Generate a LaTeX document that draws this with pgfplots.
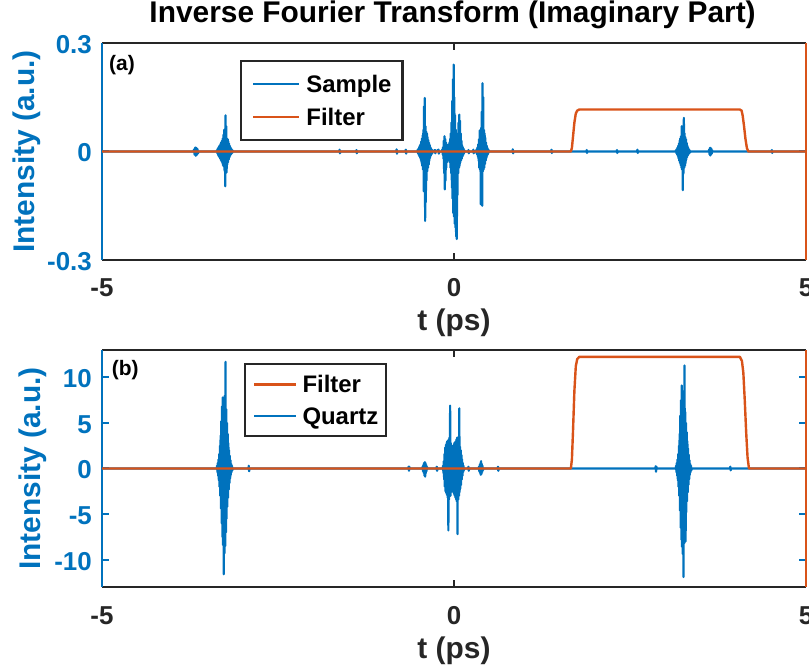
\documentclass[border=0pt]{standalone}
\usepackage{pgfplots}
\pgfplotsset{compat=1.18}
\usepackage{fontspec}
\setmainfont{Liberation Sans}

\definecolor{mblue}{rgb}{0,0.447,0.741}
\definecolor{morange}{rgb}{0.85,0.325,0.098}
\definecolor{mgray}{rgb}{0.15,0.15,0.15}

\newcommand{\tickfont}{\fontsize{26}{31}\selectfont\bfseries}
\newcommand{\labelfont}{\fontsize{30}{36}\selectfont\bfseries}
\newcommand{\legfont}{\fontsize{24}{29}\selectfont\bfseries}

\pgfplotsset{
  panel/.style={
    scale only axis, width=704bp, anchor=south west,
    xmin=-5, xmax=5,
    separate axis lines,
    x axis line style={draw=mgray, line width=2.4bp},
    y axis line style={draw=mblue, line width=2.4bp},
    xtick={-5,0,5}, xticklabels={-5,0,5},
    tick align=inside, major tick length=7bp,
    xtick style={draw=mgray, line width=2bp},
    ytick style={draw=mblue, line width=2bp},
    xticklabel style={font=\tickfont, text=mgray, anchor=base, inner sep=0pt, yshift=-37bp},
    yticklabel style={font=\tickfont, text=mblue, anchor=east, inner sep=0pt, xshift=-10bp, yshift=-1.5bp},
    xlabel={t (ps)},
    xlabel style={font=\labelfont, text=mgray, at={(axis description cs:0.5,0)}, anchor=base, yshift=-71bp},
    ylabel={Intensity (a.u.)},
    legend cell align=left,
    legend style={draw=mgray, line width=2.2bp, fill=white, text=black, font=\legfont,
      anchor=north west,
      nodes={inner sep=0pt, text height=22bp, text depth=6bp}},
  },
  sig/.style={mblue, line width=2.2bp, line join=round, mark=none},
  filt/.style={morange, line width=2.4bp, line join=round, mark=none},
}

\begin{document}
\begin{tikzpicture}
% ---------------- (a) sample ----------------
\begin{axis}[panel, name=top, at={(102bp,411bp)}, height=217bp,
  ymin=-0.3, ymax=0.3, ytick={-0.3,0,0.3}, yticklabels={-0.3,0,0.3},
  ylabel style={font=\labelfont, text=mblue, rotate=0, at={(axis description cs:-0.0952,0.5)}, anchor=base},
  title={Inverse Fourier Transform (Imaginary Part)},
  title style={font=\fontsize{30}{36}\selectfont\bfseries, text=black, at={(axis description cs:0.498,1)}, anchor=base, yshift=14.7bp},
  legend style={at={(axis description cs:0.196,0.9217)}, inner xsep=11bp, inner ysep=9bp, row sep=5bp, column sep=6bp},
  legend image code/.code={\draw[#1] (0bp,0bp) -- (46bp,0bp);},
]
\addplot[sig] coordinates {
(-5,0) (-3.70,0) (-3.692,0.006) (-3.684,-0.009) (-3.676,0.011) (-3.668,-0.012) (-3.660,0.010) (-3.652,-0.009) (-3.644,0.007) (-3.636,-0.005) (-3.628,0)
(-3.37,0) (-3.365,0.004) (-3.36,-0.006) (-3.355,0.008) (-3.35,-0.010) (-3.345,0.012) (-3.34,-0.014) (-3.335,0.015) (-3.33,-0.016) (-3.325,0.018)
(-3.32,-0.020) (-3.315,0.022) (-3.31,-0.024) (-3.305,0.026) (-3.30,-0.028) (-3.295,0.030) (-3.29,-0.032) (-3.285,0.036) (-3.28,-0.038) (-3.275,0.046)
(-3.27,-0.042) (-3.265,0.060) (-3.26,-0.052) (-3.255,0.040) (-3.25,-0.096) (-3.245,0.100) (-3.24,-0.044) (-3.235,0.070) (-3.23,-0.058) (-3.225,0.036)
(-3.22,-0.036) (-3.215,0.034) (-3.21,-0.030) (-3.205,0.028) (-3.20,-0.022) (-3.195,0.022) (-3.19,-0.016) (-3.185,0.016) (-3.18,-0.012) (-3.175,0.012)
(-3.17,-0.009) (-3.165,0.008) (-3.16,-0.006) (-3.155,0.005) (-3.15,-0.004) (-3.145,0.003) (-3.14,0)
(-1.63,0) (-1.625,0.005) (-1.62,-0.005) (-1.615,0) (-1.39,0) (-1.385,0.004) (-1.38,-0.005) (-1.375,0)
(-0.82,0) (-0.815,0.006) (-0.81,-0.006) (-0.805,0) (-0.69,0) (-0.685,0.005) (-0.68,-0.006) (-0.675,0)
(-0.52,0) (-0.515,0.005) (-0.51,-0.006) (-0.505,0.008) (-0.50,-0.010) (-0.495,0.012) (-0.49,-0.014) (-0.485,0.016) (-0.48,-0.018) (-0.475,0.020)
(-0.47,-0.024) (-0.465,0.028) (-0.46,-0.032) (-0.455,0.036) (-0.45,-0.040) (-0.445,0.045) (-0.44,-0.050) (-0.435,0.060) (-0.43,-0.110) (-0.425,0.125)
(-0.42,-0.060) (-0.415,0.148) (-0.41,-0.192) (-0.405,0.070) (-0.40,-0.140) (-0.395,0.055) (-0.39,-0.080) (-0.385,0.050) (-0.38,-0.055) (-0.375,0.040)
(-0.37,-0.045) (-0.365,0.032) (-0.36,-0.036) (-0.355,0.024) (-0.35,-0.026) (-0.345,0.018) (-0.34,-0.018) (-0.335,0.012) (-0.33,-0.012) (-0.325,0.008)
(-0.32,-0.008) (-0.315,0.005) (-0.31,-0.005) (-0.30,0)
(-0.27,0.004) (-0.265,-0.005) (-0.26,0) (-0.22,0.005) (-0.215,-0.006) (-0.21,0)
(-0.17,0) (-0.165,0.006) (-0.16,-0.008) (-0.155,0.012) (-0.15,-0.020) (-0.145,0.030) (-0.14,-0.060) (-0.135,0.042) (-0.13,-0.105) (-0.125,0.035)
(-0.12,-0.080) (-0.115,0.025) (-0.11,-0.045) (-0.105,0.020) (-0.10,-0.030) (-0.095,0.015) (-0.09,-0.022) (-0.085,0.018) (-0.08,-0.020) (-0.075,0.020)
(-0.07,-0.025) (-0.065,0.025) (-0.06,-0.030) (-0.055,0.035) (-0.05,-0.045) (-0.045,0.050) (-0.04,-0.060) (-0.035,0.080) (-0.03,-0.100) (-0.025,0.140)
(-0.02,-0.130) (-0.015,0.200) (-0.01,-0.170) (-0.005,0.240) (0.0,-0.180) (0.005,0.150) (0.01,-0.200) (0.015,0.100) (0.02,-0.210) (0.025,0.060)
(0.03,-0.235) (0.035,0.040) (0.04,-0.242) (0.045,0.030) (0.05,-0.120) (0.055,0.050) (0.06,-0.060) (0.065,0.080) (0.07,-0.045) (0.075,0.102)
(0.08,-0.040) (0.085,0.085) (0.09,-0.030) (0.095,0.050) (0.10,-0.025) (0.105,0.030) (0.11,-0.020) (0.115,0.018) (0.12,-0.014) (0.125,0.012)
(0.13,-0.010) (0.135,0.008) (0.14,-0.006) (0.145,0.004) (0.15,0)
(0.20,0) (0.205,0.004) (0.21,-0.005) (0.215,0) (0.27,0) (0.275,0.005) (0.28,-0.005) (0.285,0)
(0.31,0) (0.315,0.004) (0.32,-0.005) (0.325,0.007) (0.33,-0.009) (0.335,0.012) (0.34,-0.015) (0.345,0.020) (0.35,-0.026) (0.355,0.034)
(0.36,-0.045) (0.365,0.058) (0.37,-0.050) (0.375,0.060) (0.38,-0.146) (0.385,0.065) (0.39,-0.060) (0.395,0.110) (0.40,-0.150) (0.405,0.189)
(0.41,-0.055) (0.415,0.150) (0.42,-0.050) (0.425,0.060) (0.43,-0.045) (0.435,0.050) (0.44,-0.035) (0.445,0.038) (0.45,-0.025) (0.455,0.025)
(0.46,-0.018) (0.465,0.016) (0.47,-0.012) (0.475,0.010) (0.48,-0.008) (0.485,0.006) (0.49,-0.004) (0.495,0.003) (0.50,0)
(0.83,0) (0.835,0.006) (0.84,-0.005) (0.845,0) (1.38,0) (1.385,0.005) (1.39,-0.004) (1.395,0)
(1.88,0) (1.885,0.004) (1.89,-0.004) (1.895,0) (2.31,0) (2.315,0.004) (2.32,-0.004) (2.325,0) (2.60,0) (2.605,0.005) (2.61,-0.004) (2.615,0)
(3.15,0) (3.155,0.004) (3.16,-0.005) (3.165,0.007) (3.17,-0.009) (3.175,0.011) (3.18,-0.013) (3.185,0.016) (3.19,-0.019) (3.195,0.022)
(3.20,-0.026) (3.205,0.030) (3.21,-0.032) (3.215,0.036) (3.22,-0.038) (3.225,0.042) (3.23,-0.045) (3.235,0.070) (3.24,-0.050) (3.245,0.045)
(3.25,-0.107) (3.255,0.050) (3.26,-0.060) (3.265,0.093) (3.27,-0.045) (3.275,0.050) (3.28,-0.040) (3.285,0.040) (3.29,-0.032) (3.295,0.034)
(3.30,-0.022) (3.305,0.024) (3.31,-0.016) (3.315,0.016) (3.32,-0.011) (3.325,0.011) (3.33,-0.008) (3.335,0.007) (3.34,-0.005) (3.345,0.004)
(3.35,-0.003) (3.36,0)
(3.62,0) (3.625,0.006) (3.63,-0.008) (3.635,0.010) (3.64,-0.011) (3.645,0.010) (3.65,-0.009) (3.655,0.008) (3.66,-0.006) (3.665,0.004) (3.67,0)
(4.51,0) (4.515,0.004) (4.52,-0.004) (4.525,0) (5,0)
};
\addlegendentry{Sample\hspace{13bp}}
\addplot[filt] coordinates {
(-5,0) (1.66,0) (1.675,0.010) (1.69,0.040) (1.71,0.080) (1.73,0.105) (1.75,0.113) (1.78,0.116)
(4.06,0.116) (4.085,0.113) (4.10,0.100) (4.12,0.070) (4.14,0.035) (4.16,0.010) (4.18,0) (5,0)
};
\addlegendentry{Filter}
\node[anchor=north west, inner sep=0pt, font=\fontsize{21}{25}\selectfont\bfseries, text=black] at (rel axis cs:0.01,0.945) {(a)};
\end{axis}
\draw[morange, line width=2.4bp] (top.south east) -- (top.north east);

% ---------------- (b) quartz ----------------
\begin{axis}[panel, name=bot, at={(102bp,84bp)}, height=237bp,
  ymin=-13, ymax=13, ytick={-10,-5,0,5,10}, yticklabels={-10,-5,0,5,10},
  ylabel style={font=\labelfont, text=mblue, rotate=0, at={(axis description cs:-0.088,0.5)}, anchor=base},
  legend style={at={(axis description cs:0.2017,0.9439)}, inner xsep=8bp, inner ysep=6bp, row sep=4bp, column sep=5bp},
  legend image code/.code={\draw[#1] (0bp,0bp) -- (42bp,0bp);},
]
\addlegendimage{filt}
\addlegendentry{Filter}
\addplot[sig] coordinates {
(-5,0) (-3.37,0) (-3.365,0.3) (-3.36,-0.4) (-3.355,0.6) (-3.35,-0.8) (-3.345,1.0) (-3.34,-1.3) (-3.335,1.6) (-3.33,-2.0) (-3.325,2.5)
(-3.32,-3.0) (-3.315,3.6) (-3.31,-4.4) (-3.305,5.2) (-3.30,-6.0) (-3.295,6.8) (-3.29,-7.5) (-3.285,7.8) (-3.28,-8.4) (-3.275,7.6)
(-3.27,-11.6) (-3.265,7.0) (-3.26,-9.3) (-3.255,8.0) (-3.25,-8.5) (-3.245,11.7) (-3.24,-7.0) (-3.235,6.5) (-3.23,-5.5) (-3.225,5.0)
(-3.22,-4.2) (-3.215,3.8) (-3.21,-3.2) (-3.205,2.8) (-3.20,-2.3) (-3.195,2.0) (-3.19,-1.6) (-3.185,1.4) (-3.18,-1.1) (-3.175,0.9)
(-3.17,-0.7) (-3.165,0.5) (-3.16,-0.4) (-3.155,0.3) (-3.15,-0.2) (-3.14,0)
(-2.92,0) (-2.915,0.3) (-2.91,-0.3) (-2.905,0)
(-0.65,0) (-0.645,0.2) (-0.64,-0.25) (-0.635,0.2) (-0.63,0)
(-0.45,0) (-0.445,0.2) (-0.44,-0.3) (-0.435,0.4) (-0.43,-0.5) (-0.425,0.6) (-0.42,-0.8) (-0.415,0.7) (-0.41,-0.9) (-0.405,0.6)
(-0.40,-0.5) (-0.395,0.4) (-0.39,-0.3) (-0.385,0.2) (-0.38,0)
(-0.25,0) (-0.245,0.2) (-0.24,-0.25) (-0.235,0)
(-0.16,0) (-0.155,0.3) (-0.15,-0.5) (-0.145,0.8) (-0.14,-1.2) (-0.135,1.6) (-0.13,-2.0) (-0.125,2.3) (-0.12,-2.5) (-0.115,2.6)
(-0.11,-2.7) (-0.105,2.8) (-0.10,-2.9) (-0.095,3.0) (-0.09,-3.2) (-0.085,3.0) (-0.08,-6.8) (-0.075,3.2) (-0.07,-3.4) (-0.065,3.4)
(-0.06,-3.0) (-0.055,6.9) (-0.05,-3.0) (-0.045,2.8) (-0.04,-2.6) (-0.035,2.5) (-0.03,-2.4) (-0.025,2.4) (-0.02,-2.5) (-0.015,2.5)
(-0.01,-2.6) (-0.005,2.6) (0.0,-2.8) (0.005,2.8) (0.01,-3.0) (0.015,2.9) (0.02,-3.2) (0.025,3.0) (0.03,-3.4) (0.035,3.2)
(0.04,-3.6) (0.045,3.4) (0.05,-7.2) (0.055,3.2) (0.06,-3.4) (0.065,3.0) (0.07,-3.0) (0.075,6.6) (0.08,-2.6) (0.085,2.4)
(0.09,-2.2) (0.095,2.0) (0.10,-1.8) (0.105,1.5) (0.11,-1.2) (0.115,1.0) (0.12,-0.8) (0.125,0.6) (0.13,-0.4) (0.135,0.3)
(0.14,-0.2) (0.145,0)
(0.20,0) (0.205,0.2) (0.21,-0.25) (0.215,0)
(0.35,0) (0.355,0.2) (0.36,-0.3) (0.365,0.4) (0.37,-0.5) (0.375,0.6) (0.38,-0.7) (0.385,0.8) (0.39,-0.6) (0.395,0.5)
(0.40,-0.4) (0.405,0.3) (0.41,-0.2) (0.415,0)
(0.62,0) (0.625,0.2) (0.63,-0.25) (0.635,0)
(2.86,0) (2.865,0.25) (2.87,-0.35) (2.875,0.2) (2.88,0)
(3.15,0) (3.155,0.3) (3.16,-0.4) (3.165,0.6) (3.17,-0.8) (3.175,1.0) (3.18,-1.3) (3.185,1.6) (3.19,-2.0) (3.195,2.5)
(3.20,-3.0) (3.205,3.8) (3.21,-4.6) (3.215,5.8) (3.22,-6.5) (3.225,7.5) (3.23,-7.8) (3.235,9.1) (3.24,-8.6) (3.245,8.5)
(3.25,-9.4) (3.255,7.8) (3.26,-11.9) (3.265,7.2) (3.27,-8.2) (3.275,11.3) (3.28,-7.6) (3.285,6.2) (3.29,-8.0) (3.295,5.0)
(3.30,-4.8) (3.305,4.0) (3.31,-3.6) (3.315,3.0) (3.32,-2.6) (3.325,2.2) (3.33,-1.8) (3.335,1.5) (3.34,-1.2) (3.345,0.9)
(3.35,-0.7) (3.355,0.5) (3.36,-0.4) (3.365,0.3) (3.37,-0.2) (3.38,0)
(3.92,0) (3.925,0.2) (3.93,-0.2) (3.935,0) (5,0)
};
\addlegendentry{Quartz}
\addplot[filt, forget plot] coordinates {
(-5,0) (1.66,0) (1.675,1.0) (1.69,4.0) (1.71,8.5) (1.73,11.2) (1.75,12.0) (1.78,12.25)
(4.06,12.25) (4.09,11.8) (4.11,10.5) (4.13,7.5) (4.15,4.0) (4.17,1.2) (4.19,0) (5,0)
};
\node[anchor=north west, inner sep=0pt, font=\fontsize{21}{25}\selectfont\bfseries, text=black] at (rel axis cs:0.0138,0.958) {(b)};
\end{axis}
\draw[morange, line width=2.4bp] (bot.south east) -- (bot.north east);

\pgfresetboundingbox
\path (0bp,0bp) rectangle (809bp,671bp);
\end{tikzpicture}
\end{document}
